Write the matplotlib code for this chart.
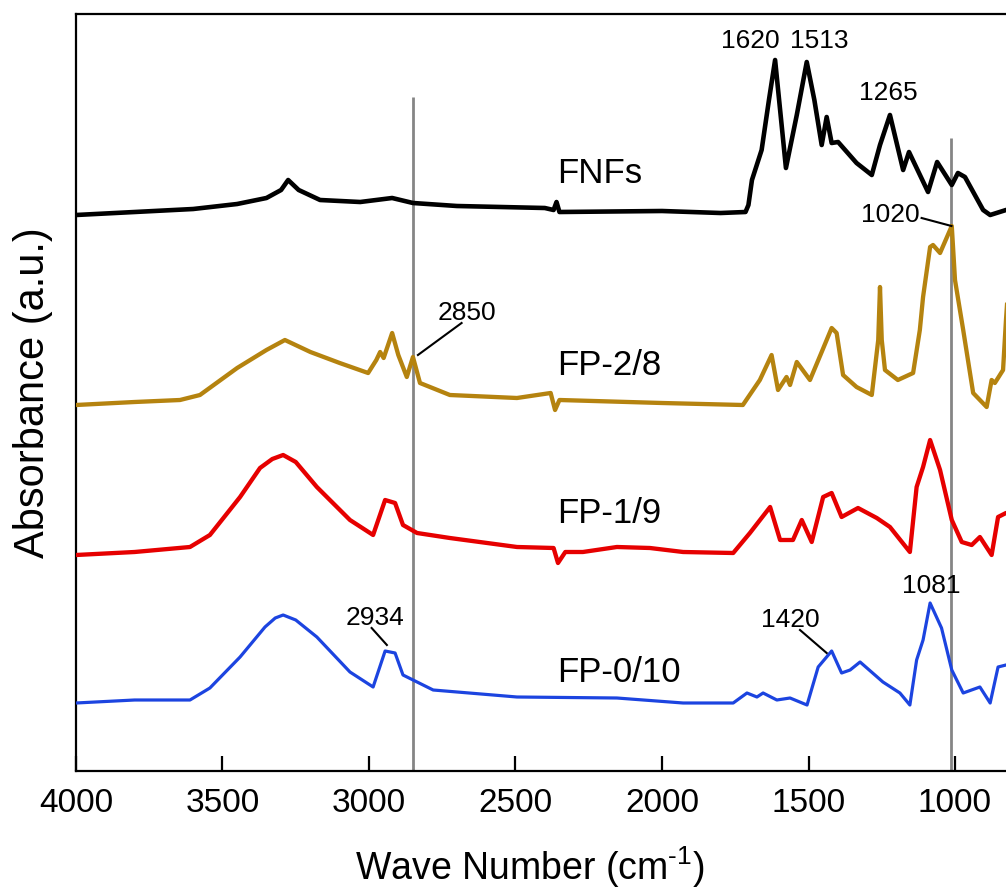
import matplotlib
matplotlib.use("Agg")
import matplotlib.pyplot as plt

plt.rcParams["font.family"] = ["Liberation Sans", "DejaVu Sans"]
plt.rcParams["mathtext.fontset"] = "custom"
plt.rcParams["mathtext.rm"] = "Liberation Sans"
plt.rcParams["mathtext.it"] = "Liberation Sans"

# FTIR spectra, offsets already included (arbitrary units)
fnf_wn = [4000, 3800, 3600, 3450, 3350, 3300, 3276, 3240, 3167, 3030,
          2921, 2850, 2700, 2400, 2370, 2360, 2350, 2000, 1800, 1715,
          1705, 1693, 1660, 1635, 1614, 1577, 1540, 1506, 1480, 1455,
          1438, 1421, 1399, 1336, 1284, 1256, 1222, 1177, 1157, 1092,
          1061, 1011, 990, 966, 904, 880, 826, 800]
fnf_abs = [556, 559, 562, 567, 573, 581, 591, 581, 571, 569,
           573, 568, 565, 563, 561, 569, 559, 560, 558, 559,
           566, 591, 621, 671, 711, 603, 656, 709, 671, 626,
           654, 628, 629, 608, 596, 626, 656, 601, 619, 579,
           609, 586, 598, 594, 561, 556, 561, 561]

fp28_wn = [4000, 3800, 3645, 3577, 3450, 3350, 3287, 3200, 3100, 3003,
           2975, 2962, 2950, 2921, 2900, 2871, 2850, 2826, 2724, 2495,
           2380, 2365, 2350, 2000, 1724, 1666, 1626, 1604, 1575, 1563,
           1540, 1495, 1455, 1421, 1404, 1382, 1336, 1284, 1262, 1256,
           1250, 1239, 1195, 1143, 1120, 1109, 1085, 1075, 1051, 1011,
           1000, 972, 938, 892, 875, 864, 836, 826, 810]
fp28_abs = [366, 369, 371, 376, 403, 421, 431, 419, 408, 398,
            411, 419, 413, 438, 416, 394, 414, 388, 376, 373,
            378, 361, 371, 368, 366, 391, 416, 381, 394, 386,
            409, 391, 419, 443, 438, 396, 384, 376, 431, 484,
            431, 401, 391, 398, 441, 474, 524, 526, 518, 545,
            491, 441, 378, 364, 391, 388, 401, 451, 521]

fp19_wn = [4000, 3800, 3611, 3543, 3440, 3372, 3330, 3293, 3250, 3178,
           3065, 2986, 2945, 2911, 2884, 2836, 2724, 2495, 2370, 2355,
           2330, 2270, 2154, 2041, 1928, 1757, 1700, 1631, 1597, 1553,
           1523, 1489, 1450, 1421, 1387, 1331, 1267, 1222, 1154, 1131,
           1109, 1085, 1051, 1011, 977, 943, 915, 875, 853, 826, 800]
fp19_abs = [216, 219, 224, 236, 274, 303, 312, 316, 309, 284,
            251, 236, 271, 268, 246, 238, 233, 224, 223, 208,
            219, 219, 224, 223, 219, 218, 238, 264, 231, 231,
            251, 229, 274, 278, 254, 263, 253, 244, 219, 284,
            304, 331, 301, 251, 229, 226, 234, 216, 254, 258, 258]

fp010_wn = [4000, 3800, 3611, 3543, 3440, 3355, 3320, 3293, 3250, 3178,
            3065, 2986, 2945, 2911, 2884, 2781, 2495, 2154, 1928, 1757,
            1710, 1676, 1655, 1608, 1563, 1505, 1467, 1421, 1387, 1358,
            1324, 1246, 1188, 1154, 1131, 1109, 1085, 1046, 1011, 972,
            915, 880, 853, 826, 800]
fp010_abs = [68, 71, 71, 83, 114, 144, 153, 156, 151, 134,
             99, 84, 120, 118, 96, 81, 74, 73, 68, 68,
             78, 74, 78, 71, 73, 66, 104, 120, 98, 101,
             109, 89, 78, 66, 111, 131, 168, 143, 101, 78,
             84, 68, 104, 106, 106]

sample_names = ["FNFs", "FP-2/8", "FP-1/9", "FP-0/10"]
sample_label_y = [588, 396, 248, 89]
sample_label_x = 2358

# peak labels: text, x, y (baseline)
peak_text = ["1620", "1513", "1265", "1020", "2850", "2934", "1420", "1081"]
peak_x = [1700, 1464, 1229, 1222, 2666, 2980, 1563, 1082]
peak_y = [723, 723, 671, 549, 451, 146, 144, 178]

# leader lines: (x0, x1), (y0, y1)
leader_x = [(1114, 1012), (2684, 2833), (2991, 2939), (1529, 1438)]
leader_y = [(553, 545), (448, 416), (143, 126), (141, 118)]

# reference lines
ref_wn = [2850, 1015]
ref_top = [674, 633]

fig = plt.figure(figsize=(10.06, 8.89), dpi=100)
ax = fig.add_axes([76 / 1006, 118 / 889, 937.6 / 1006, 757 / 889])

ax.vlines(ref_wn, 0, ref_top, color="#858585", lw=2.0, zorder=1)

ax.plot(fnf_wn, fnf_abs, color="black", lw=3.3, zorder=3)
ax.plot(fp28_wn, fp28_abs, color="#B5830F", lw=3.1, zorder=3)
ax.plot(fp19_wn, fp19_abs, color="#E60000", lw=3.1, zorder=3)
ax.plot(fp010_wn, fp010_abs, color="#1C44E0", lw=2.3, zorder=3)

for name, y in zip(sample_names, sample_label_y):
    ax.text(sample_label_x, y, name, fontsize=25, ha="left", va="baseline")

for t, x, y in zip(peak_text, peak_x, peak_y):
    ax.text(x, y, t, fontsize=19, ha="center", va="baseline")

for xs, ys in zip(leader_x, leader_y):
    ax.plot(xs, ys, color="black", lw=1.5, zorder=4)

ax.set_xlim(4000, 800)
ax.set_ylim(0, 757)
ax.set_xticks([4000, 3500, 3000, 2500, 2000, 1500, 1000])
ax.set_yticks([])
ax.tick_params(axis="x", direction="in", length=11, width=1.6, labelsize=24, pad=12)
for s in ax.spines.values():
    s.set_linewidth(1.6)

ax.set_xlabel("Wave Number (cm$^{\\mathregular{\\text{-}1}}$)", fontsize=27)
ax.xaxis.label.set_va("baseline")
ax.xaxis.set_label_coords(0.484, -0.144)
ax.set_ylabel("Absorbance (a.u.)", fontsize=30)
ax.yaxis.set_label_coords(-0.024, 0.5)

fig.savefig("out.png", dpi=100)
